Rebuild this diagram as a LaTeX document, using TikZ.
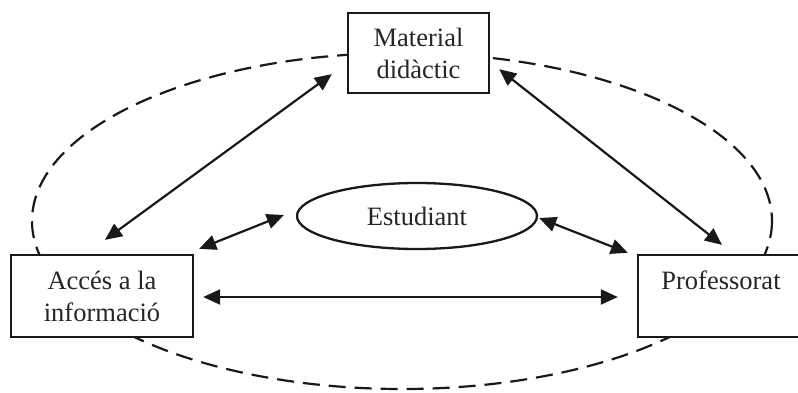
\documentclass[tikz,border=0pt]{standalone}
\usepackage{fontspec}
\setmainfont{Liberation Serif}
\usetikzlibrary{arrows.meta,calc,shapes.geometric}
\begin{document}
\begin{tikzpicture}[x=1pt,y=-1pt,
  box/.style={draw=black!90,line width=2.3pt,fill=white,inner sep=0pt,align=center,
    font=\fontsize{26.5}{32}\selectfont,text=black!85},
  conn/.style={draw=black!90,line width=2.2pt,{Triangle[length=17pt,width=15pt]}-{Triangle[length=17pt,width=15pt]}},
  loop/.style={draw=black!90,line width=2.2pt,dash pattern=on 17pt off 9pt}]
\useasboundingbox (0,0) rectangle (798,392);
\draw[loop] (402,221) ellipse [x radius=370, y radius=168];
\node[box,minimum width=141pt,minimum height=80pt] (mat) at (418.5,53) {Material\\didàctic};
\node[box,minimum width=182pt,minimum height=82pt] (acc) at (102,296) {Accés a la\\informació};
\node[box,minimum width=166pt,minimum height=82pt] (prof) at (721,296) {Professorat\\\phantom{P}};
\node[box,ellipse,minimum width=240pt,minimum height=66pt] (est) at (417,216) {Estudiant};
\draw[conn] ($(mat.south west)+(-15,-20)$) -- ($(acc.north)+(3,-14)$);
\draw[conn] ($(mat.south east)+(9,-25)$) -- ($(prof.north)+(1,-9)$);
\draw[conn] ($(acc.north east)+(5,-5)$) -- ($(est.west)+(-12,-1)$);
\draw[conn] ($(est.east)+(1,2)$) -- ($(prof.north west)+(-9,-1)$);
\draw[conn] ($(acc.east)+(9,1)$) -- ($(prof.west)+(-19,1)$);
\end{tikzpicture}
\end{document}
